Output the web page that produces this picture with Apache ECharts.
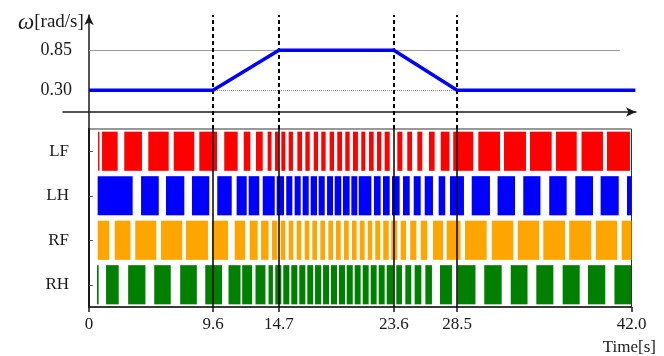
<!DOCTYPE html>
<html>
<head>
<meta charset="utf-8">
<script src="https://cdn.jsdelivr.net/npm/echarts@6/dist/echarts.min.js"></script>
<style>
  html, body { margin: 0; padding: 0; background: #fff; }
  #chart { width: 664px; height: 356px; }
</style>
</head>
<body>
<div id="chart"></div>
<script>
// Legs of the gait diagram, top to bottom
const legs = ['LF', 'LH', 'RF', 'RH'];

// Time ticks on the shared axis [s]
const timeTicks = [0, 9.6, 14.7, 23.6, 28.5, 42.0];
const timeTickLabels = ['0', '9.6', '14.7', '23.6', '28.5', '42.0'];

// Turning speed profile
const omegaTimes = [0, 9.6, 14.7, 23.6, 28.5, 42.3];
const omegaValues = [0.30, 0.30, 0.85, 0.85, 0.30, 0.30];
const omegaTicks = [0.30, 0.85];

// Stance phases per leg: [start, end] in seconds
const lfStance = [
  [0.70, 0.81], [1.01, 2.22], [2.73, 4.10], [4.59, 6.17], [6.56, 8.15], [8.54, 9.91],
  [10.47, 11.51], [11.98, 12.49], [12.93, 13.45], [13.83, 14.13], [14.40, 14.67],
  [14.89, 15.20], [15.46, 15.79], [16.13, 16.49], [16.75, 17.09], [17.40, 17.73],
  [17.98, 18.32], [18.63, 18.97], [19.22, 19.59], [19.84, 20.18], [20.44, 20.82],
  [21.08, 21.39], [21.68, 22.04], [22.30, 22.63], [22.89, 23.28], [23.87, 24.26],
  [24.64, 25.01], [25.42, 25.80], [26.32, 26.76], [27.23, 27.91], [28.20, 29.75],
  [30.14, 31.82], [32.13, 33.83], [34.14, 35.82], [36.15, 37.76], [38.13, 39.79],
  [40.10, 41.88]
];
const lhStance = [
  [0.67, 3.38], [4.03, 5.40], [5.96, 7.38], [7.97, 9.31], [9.93, 11.05], [11.43, 12.21],
  [12.36, 13.18], [13.45, 14.38], [14.53, 15.10], [15.27, 15.74], [15.92, 16.39],
  [16.54, 17.01], [17.16, 17.65], [17.78, 18.25], [18.43, 18.89], [19.02, 19.53],
  [19.66, 20.18], [20.31, 20.77], [20.88, 21.86], [22.06, 22.58], [22.76, 23.28],
  [23.46, 24.05], [24.31, 24.83], [25.14, 25.68], [25.99, 26.63], [27.07, 27.58],
  [27.95, 29.03], [29.63, 31.04], [31.63, 32.98], [33.62, 34.95], [35.63, 36.98],
  [37.65, 39.02], [39.61, 41.01], [41.65, 42.0]
];
const rfStance = [
  [0.67, 1.57], [1.99, 3.21], [3.58, 5.21], [5.57, 7.22], [7.51, 9.21], [9.52, 10.76],
  [11.28, 12.09], [12.44, 13.06], [13.32, 13.90], [14.17, 14.58], [14.84, 15.20],
  [15.46, 15.82], [16.08, 16.44], [16.70, 17.06], [17.29, 17.65], [17.91, 18.27],
  [18.53, 18.89], [19.12, 19.49], [19.74, 20.11], [20.36, 20.72], [20.96, 21.34],
  [21.58, 21.93], [22.16, 22.55], [22.78, 23.20], [23.40, 23.87], [24.13, 24.54],
  [24.87, 25.34], [25.68, 26.19], [26.63, 27.41], [27.69, 28.76], [29.11, 30.79],
  [31.18, 32.85], [33.19, 34.85], [35.17, 36.85], [37.18, 38.88], [39.24, 40.89],
  [41.24, 42.0]
];
const rhStance = [
  [0.62, 0.75], [1.32, 2.30], [3.03, 4.37], [5.05, 6.33], [7.06, 8.35], [9.00, 10.30],
  [10.80, 11.73], [11.86, 12.63], [12.89, 13.66], [13.90, 14.24], [14.42, 14.89],
  [15.04, 15.51], [15.66, 16.13], [16.28, 16.75], [16.90, 17.36], [17.50, 17.98],
  [18.12, 18.58], [18.73, 19.20], [19.35, 19.82], [19.95, 20.42], [20.57, 21.03],
  [21.19, 21.65], [21.81, 22.27], [22.43, 22.89], [23.05, 23.56], [23.79, 24.23],
  [24.49, 24.95], [25.21, 25.73], [26.04, 26.55], [27.17, 28.10], [28.53, 29.92],
  [30.60, 31.95], [32.65, 33.95], [34.63, 35.95], [36.67, 37.99], [38.63, 39.97],
  [40.68, 41.96]
];

const stanceByLeg = [lfStance, lhStance, rfStance, rhStance];
const legColors = ['#ff0000', '#0000ff', '#ffa500', '#008000'];
const serif = "'Liberation Serif', 'Times New Roman', serif";
const ink = '#1a1a1a';

const chart = echarts.init(document.getElementById('chart'), null, { renderer: 'canvas' });

// Draws one stance interval as a rectangle in its leg's row
function renderStance(params, api) {
  const row = api.value(0);
  const p0 = api.coord([api.value(1), row]);
  const p1 = api.coord([api.value(2), row]);
  const h = api.size([0, 1])[1] * 0.88;
  return {
    type: 'rect',
    shape: { x: p0[0], y: p0[1] - h / 2, width: p1[0] - p0[0], height: h },
    style: { fill: api.visual('color') }
  };
}

const stanceSeries = legs.map((leg, i) => ({
  name: leg,
  type: 'custom',
  xAxisIndex: 1,
  yAxisIndex: 1,
  renderItem: renderStance,
  itemStyle: { color: legColors[i] },
  encode: { x: [1, 2], y: 0 },
  data: stanceByLeg[i].map(([s, e]) => [i, s, e]),
  z: 2,
  silent: true
}));

const phaseMarks = timeTicks.slice(1, 5);

const option = {
  animation: false,
  backgroundColor: '#fff',
  title: [
    {
      text: '{w|ω}[rad/s]',
      left: 13, top: 6,
      textStyle: {
        fontFamily: serif, fontSize: 19, fontWeight: 'normal', color: ink,
        rich: { w: { fontFamily: serif, fontSize: 23, fontStyle: 'italic', color: ink } }
      }
    },
    {
      text: 'Time[s]',
      right: 3, top: 334,
      textStyle: { fontFamily: serif, fontSize: 17, fontWeight: 'normal', color: ink }
    }
  ],
  grid: [
    { left: 63, right: 28, top: 15, bottom: 227 },
    { left: 89, right: 32.5, top: 129, bottom: 49, show: true, borderColor: '#333', borderWidth: 1, backgroundColor: 'transparent' }
  ],
  xAxis: [
    {
      type: 'value', gridIndex: 0, min: -2.013, max: 42.35,
      axisLine: { show: true, onZero: true, symbol: ['none', 'arrow'], symbolSize: [7, 10], lineStyle: { color: ink, width: 1.5 } },
      axisTick: { show: false }, axisLabel: { show: false }, splitLine: { show: false }
    },
    {
      type: 'value', gridIndex: 1, min: 0, max: 42,
      axisLine: { show: true, onZero: false, lineStyle: { color: ink, width: 1.5 } },
      axisTick: { show: true, customValues: timeTicks, length: 5, lineStyle: { color: ink, width: 1.5 } },
      axisLabel: {
        show: true, customValues: timeTicks, margin: 9,
        formatter: (v) => timeTickLabels[timeTicks.indexOf(v)] ?? String(v),
        fontFamily: serif, fontSize: 17, color: ink
      },
      splitLine: { show: false }
    }
  ],
  yAxis: [
    {
      type: 'value', gridIndex: 0, min: -0.234, max: 1.334,
      axisLine: { show: true, onZero: true, symbol: ['none', 'arrow'], symbolSize: [7, 10], lineStyle: { color: ink, width: 1.5 } },
      axisTick: { show: false },
      axisLabel: {
        show: true, customValues: omegaTicks, margin: -9,
        formatter: (v) => v.toFixed(2),
        fontFamily: serif, fontSize: 18, color: ink
      },
      splitLine: { show: false }
    },
    {
      type: 'category', gridIndex: 1, data: legs, inverse: true,
      axisLine: { show: true, lineStyle: { color: ink, width: 2 } },
      axisTick: { show: true, inside: true, alignWithLabel: true, length: 4, lineStyle: { color: '#555' } },
      axisLabel: { show: true, margin: 20, fontFamily: serif, fontSize: 17, color: ink },
      splitLine: { show: false }
    }
  ],
  series: [
    {
      // reference levels of the speed profile
      type: 'line', xAxisIndex: 0, yAxisIndex: 0, data: [], z: 1, silent: true,
      markLine: {
        silent: true, symbol: 'none', label: { show: false }, animation: false,
        data: [
          [{ coord: [0, 0.85], lineStyle: { type: 'solid', color: '#9a9a9a', width: 1 } }, { coord: [41.1, 0.85] }],
          [{ coord: [0, 0.30], lineStyle: { type: 'dotted', color: '#8a8a8a', width: 1 } }, { coord: [41.1, 0.30] }]
        ]
      }
    },
    {
      // phase boundaries across the speed panel
      type: 'line', xAxisIndex: 0, yAxisIndex: 0, data: [], z: 3, silent: true,
      markLine: {
        silent: true, symbol: 'none', label: { show: false }, animation: false,
        lineStyle: { type: [4, 3], color: '#000', width: 2 },
        data: phaseMarks.map((t) => ({ xAxis: t }))
      }
    },
    {
      name: 'omega',
      type: 'line', xAxisIndex: 0, yAxisIndex: 0,
      data: omegaTimes.map((t, i) => [t, omegaValues[i]]),
      showSymbol: false, symbol: 'none',
      lineStyle: { color: '#0000ff', width: 3.5 },
      z: 5, silent: true
    },
    ...stanceSeries,
    {
      // phase boundaries across the gait diagram
      type: 'line', xAxisIndex: 1, yAxisIndex: 1, data: [], z: 6, silent: true,
      markLine: {
        silent: true, symbol: 'none', label: { show: false }, animation: false,
        lineStyle: { type: 'solid', color: '#000', width: 1.5 },
        data: phaseMarks.map((t) => ({ xAxis: t }))
      }
    }
  ]
};

chart.setOption(option);
</script>
</body>
</html>
